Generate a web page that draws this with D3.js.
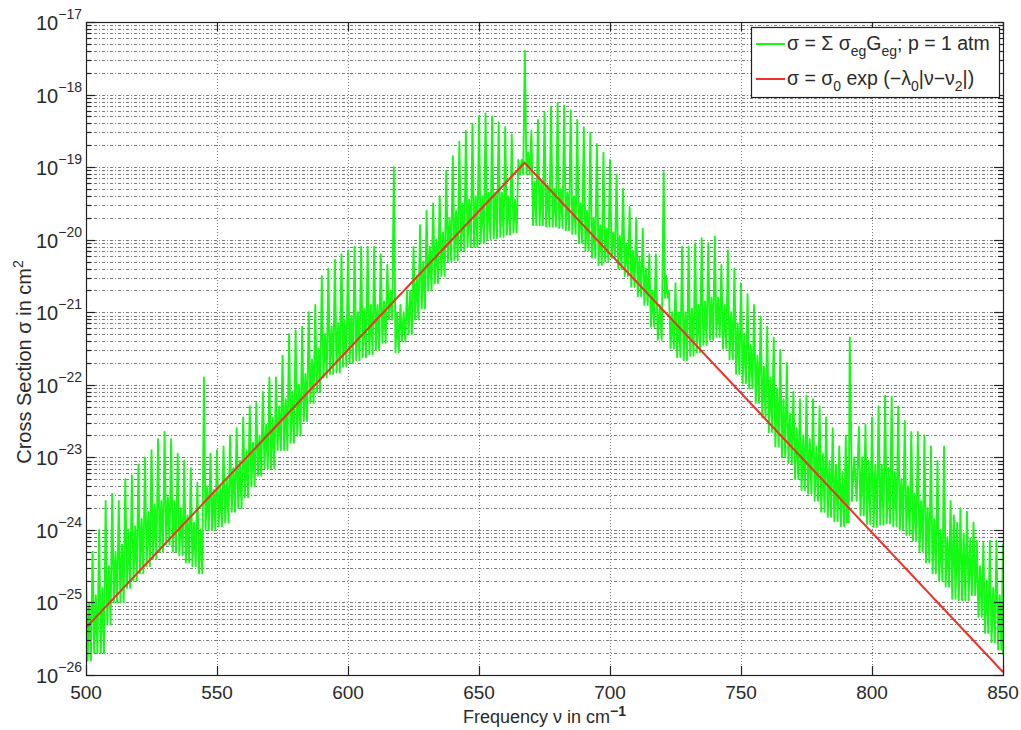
<!DOCTYPE html>
<html>
<head>
<meta charset="utf-8">
<script src="https://cdn.jsdelivr.net/npm/d3@7/dist/d3.min.js"></script>
<style>
  body { margin: 0; background: #fff; }
  text { font-family: "Liberation Sans", Arial, Helvetica, sans-serif; fill: #2a2a2a; }
</style>
</head>
<body>
<div id="chart"></div>
<script>
// spectral line positions (cm^-1) with log10 of peak, following trough, and top of the weak-line core
var lineNu = [500, 502.5, 505, 507.5, 510, 512.5, 515, 517.5, 520, 522.5, 525, 527.5, 530, 532.5, 535, 537.5, 540, 542.5,
  545, 547.5, 550, 552.5, 555, 557.5, 560, 562.5, 565, 567.5, 570, 572.5, 575, 577.5, 580, 582.5, 585, 587.5,
  590, 592.5, 595, 597.5, 600, 602.5, 605, 607.5, 610, 612.5, 615, 617.5, 620, 622.5, 625, 627.5, 630, 632.5,
  635, 637.5, 640, 642.5, 645, 647.5, 650, 652.5, 655, 657.5, 660, 662.5, 665, 667.5, 670, 672.5, 675, 677.5,
  680, 682.5, 685, 687.5, 690, 692.5, 695, 697.5, 700, 702.5, 705, 707.5, 710, 712.5, 715, 717.5, 720.5, 722.5,
  725, 727.5, 730, 732.5, 735, 737.5, 740, 742.5, 745, 747.5, 750, 752.5, 755, 757.5, 760, 762.5, 765, 767.5,
  770, 772.5, 775, 777.5, 780, 782.5, 785, 787.5, 790, 791.5, 795, 797.5, 800, 802.5, 805, 807.5, 810, 812.5,
  815, 817.5, 820, 822.5, 825, 827.5, 830, 832.5, 835, 837.5, 840, 842.5, 845, 847.5, 850];

var peakLog = [-24.6, -24.3, -24.0, -23.6, -23.5, -23.6, -23.3, -23.25, -23.1, -23.0, -22.9, -22.75, -22.65, -22.75, -22.95, -23.05, -23.15, -23.35,
  -21.9, -22.95, -22.9, -22.85, -22.7, -22.6, -22.45, -22.3, -22.25, -22.1, -21.9, -21.9, -21.6, -21.3, -21.25, -21.2, -21.0, -20.9,
  -20.5, -20.4, -20.28, -20.2, -20.15, -20.1, -20.1, -20.1, -20.1, -20.2, -20.35, -19.0, -20.9, -20.7, -20.1, -19.8, -19.6, -19.5,
  -19.4, -19.05, -18.85, -18.65, -18.5, -18.4, -18.3, -18.26, -18.3, -18.38, -18.45, -18.55, -18.9, -17.4, -18.5, -18.35, -18.25, -18.17,
  -18.12, -18.15, -18.22, -18.35, -18.45, -18.53, -18.68, -18.8, -18.9, -19.1, -19.3, -19.55, -19.7, -19.85, -20.2, -20.2, -19.07, -20.7,
  -20.6, -20.1, -20.1, -20.05, -19.98, -20.05, -19.96, -20.35, -20.15, -20.4, -20.6, -20.75, -20.9, -21.06, -21.2, -21.35, -21.52, -21.7,
  -22.1, -22.2, -22.15, -22.2, -22.3, -22.45, -22.6, -22.85, -22.7, -21.35, -22.58, -22.55, -22.45, -22.3, -22.15, -22.16, -22.3, -22.5,
  -22.65, -22.65, -22.7, -22.85, -23.05, -22.85, -23.6, -23.9, -24.05, -24.12, -24.15, -24.18, -24.15, -24.15, -24.2];

var troughLog = [-25.8, -25.7, -25.7, -25.3, -25.0, -25.0, -24.8, -24.7, -24.6, -24.5, -24.4, -24.3, -24.2, -24.3, -24.35, -24.45, -24.5, -24.6,
  -24.0, -24.0, -23.95, -23.9, -23.75, -23.7, -23.55, -23.4, -23.25, -23.15, -23.15, -22.9, -22.9, -22.8, -22.7, -22.5, -22.25, -22.1,
  -21.9, -21.85, -21.83, -21.75, -21.7, -21.66, -21.62, -21.58, -21.52, -21.42, -21.1, -21.55, -21.4, -21.3, -21.1, -20.95, -20.7, -20.6,
  -20.5, -20.3, -20.28, -20.15, -20.1, -20.1, -20.05, -20.0, -19.98, -19.96, -19.93, -19.9, -19.1, -19.1, -19.8, -19.8, -19.82, -19.82,
  -19.84, -19.87, -19.92, -20.05, -20.15, -20.25, -20.35, -20.3, -20.25, -20.4, -20.5, -20.65, -20.78, -20.9, -21.2, -21.38, -20.8, -21.5,
  -21.62, -21.66, -21.6, -21.55, -21.45, -21.38, -21.34, -21.5, -21.65, -21.85, -21.98, -22.05, -22.25, -22.45, -22.65, -22.85, -23.0, -23.08,
  -23.3, -23.45, -23.5, -23.6, -23.75, -23.82, -23.88, -23.95, -23.9, -23.6, -23.8, -23.92, -23.96, -23.93, -23.91, -23.95, -24.0, -24.07,
  -24.15, -24.3, -24.45, -24.6, -24.7, -24.78, -24.95, -24.97, -24.97, -24.9, -25.2, -25.42, -25.55, -25.65, -25.72];

var coreLog = [-25.0, -24.9, -24.8, -24.5, -24.3, -24.2, -24.0, -23.95, -23.85, -23.75, -23.65, -23.6, -23.55, -23.6, -23.7, -23.8, -23.9, -24.0,
  -23.4, -23.45, -23.4, -23.3, -23.15, -23.05, -22.9, -22.8, -22.7, -22.55, -22.45, -22.3, -22.2, -22.1, -22.0, -21.85, -21.65, -21.5,
  -21.3, -21.2, -21.15, -21.1, -21.05, -21.0, -20.95, -20.9, -20.9, -20.85, -20.7, -21.0, -21.0, -20.7, -20.5, -20.3, -20.1, -20.0,
  -19.9, -19.7, -19.6, -19.5, -19.45, -19.4, -19.4, -19.35, -19.35, -19.35, -19.4, -19.45, -18.9, -18.8, -19.2, -19.2, -19.25, -19.3,
  -19.3, -19.35, -19.4, -19.5, -19.6, -19.7, -19.8, -19.85, -19.9, -19.95, -20.05, -20.15, -20.25, -20.4, -20.7, -20.9, -20.5, -21.0,
  -21.0, -21.0, -20.95, -20.9, -20.85, -20.8, -20.8, -20.9, -21.0, -21.15, -21.3, -21.45, -21.6, -21.75, -21.9, -22.05, -22.2, -22.4,
  -22.6, -22.7, -22.75, -22.85, -22.95, -23.05, -23.1, -23.2, -23.1, -23.0, -23.0, -23.05, -23.1, -23.1, -23.15, -23.2, -23.3, -23.4,
  -23.5, -23.6, -23.7, -23.85, -24.0, -24.1, -23.8, -23.7, -23.75, -23.9, -24.5, -24.7, -24.8, -24.9, -25.0];

// exponential fit: corners
var fitNu = [500, 667.4, 850];
var fitSigma = [4.5e-26, 1.15e-19, 1.1e-26];

var xTicks = [500, 550, 600, 650, 700, 750, 800, 850];
var yExponents = [-26, -25, -24, -23, -22, -21, -20, -19, -18, -17];

var width = 1021, height = 730;
var margin = { left: 86, right: 18, top: 22, bottom: 55 };
var x0 = margin.left, x1 = width - margin.right;
var y0 = height - margin.bottom, y1 = margin.top;

var svg = d3.select("#chart").append("svg")
  .attr("width", width)
  .attr("height", height);

var x = d3.scaleLinear().domain([500, 850]).range([x0, x1]);
var y = d3.scaleLog().domain([1e-26, 1e-17]).range([y0, y1]);

svg.append("clipPath").attr("id", "plot-clip")
  .append("rect").attr("x", x0).attr("y", y1).attr("width", x1 - x0).attr("height", y0 - y1);

// grid: every minor and major decade value horizontally, major ticks vertically
var minorVals = [];
yExponents.slice(0, -1).forEach(function (e) {
  for (var m = 1; m < 10; m++) minorVals.push(m * Math.pow(10, e));
});
minorVals.push(1e-17);

var grid = svg.append("g").attr("class", "grid");
grid.selectAll(".hgrid")
  .data(minorVals.filter(function (v) { return v > 1e-26 && v < 1e-17; }))
  .enter().append("line")
  .attr("x1", x0).attr("x2", x1)
  .attr("y1", function (d) { return Math.round(y(d)) + 0.5; })
  .attr("y2", function (d) { return Math.round(y(d)) + 0.5; })
  .attr("stroke", "#6a6a6a")
  .attr("stroke-width", 0.9)
  .attr("stroke-dasharray", "3,2,1,2");

grid.selectAll(".vgrid")
  .data(xTicks.slice(1, -1))
  .enter().append("line")
  .attr("x1", function (d) { return Math.round(x(d)) + 0.5; })
  .attr("x2", function (d) { return Math.round(x(d)) + 0.5; })
  .attr("y1", y1).attr("y2", y0)
  .attr("stroke", "#6a6a6a")
  .attr("stroke-width", 0.9)
  .attr("stroke-dasharray", "1,2");

// green spectrum: strong line up to its peak, down to the trough, up to the weak core, down again
var specPts = [[lineNu[0], Math.pow(10, troughLog[0])]];
lineNu.forEach(function (nu, i) {
  specPts.push([nu, Math.pow(10, peakLog[i])]);
  if (i === lineNu.length - 1) {
    specPts.push([nu, Math.pow(10, troughLog[i])]);
    return;
  }
  var step = lineNu[i + 1] - nu;
  specPts.push([nu + step * 0.25, Math.pow(10, troughLog[i])]);
  specPts.push([nu + step * 0.5, Math.pow(10, coreLog[i])]);
  specPts.push([nu + step * 0.75, Math.pow(10, troughLog[i])]);
});

var line = d3.line()
  .x(function (d) { return x(d[0]); })
  .y(function (d) { return y(d[1]); });

svg.append("path")
  .datum(specPts)
  .attr("clip-path", "url(#plot-clip)")
  .attr("fill", "none")
  .attr("stroke", "#14fa14")
  .attr("stroke-width", 1.9)
  .attr("stroke-linejoin", "round")
  .attr("d", line);

svg.append("path")
  .datum(fitNu.map(function (nu, i) { return [nu, fitSigma[i]]; }))
  .attr("clip-path", "url(#plot-clip)")
  .attr("fill", "none")
  .attr("stroke", "#f0302a")
  .attr("stroke-width", 2)
  .attr("d", line);

// box and ticks
svg.append("rect")
  .attr("x", x0 + 0.5).attr("y", y1 + 0.5)
  .attr("width", x1 - x0).attr("height", y0 - y1)
  .attr("fill", "none").attr("stroke", "#222").attr("stroke-width", 1.2);

var ticks = svg.append("g").attr("stroke", "#222").attr("stroke-width", 1.2);
xTicks.forEach(function (t) {
  var px = Math.round(x(t)) + 0.5;
  ticks.append("line").attr("x1", px).attr("x2", px).attr("y1", y0).attr("y2", y0 - 9);
  ticks.append("line").attr("x1", px).attr("x2", px).attr("y1", y1).attr("y2", y1 + 9);
});
minorVals.forEach(function (v) {
  var py = Math.round(y(v)) + 0.5;
  var major = Math.abs(Math.log10(v) - Math.round(Math.log10(v))) < 1e-9;
  var len = major ? 9 : 5;
  ticks.append("line").attr("x1", x0).attr("x2", x0 + len).attr("y1", py).attr("y2", py);
  ticks.append("line").attr("x1", x1).attr("x2", x1 - len).attr("y1", py).attr("y2", py);
});

// tick labels
svg.append("g").selectAll("text")
  .data(xTicks)
  .enter().append("text")
  .attr("x", function (d) { return x(d); })
  .attr("y", y0 + 24)
  .attr("text-anchor", "middle")
  .attr("font-size", 19)
  .text(function (d) { return d; });

var yl = svg.append("g").selectAll("text")
  .data(yExponents)
  .enter().append("text")
  .attr("x", x0 - 4)
  .attr("y", function (d) { return y(Math.pow(10, d)) + 8; })
  .attr("text-anchor", "end")
  .attr("font-size", 20);
yl.append("tspan").text("10");
yl.append("tspan").attr("dy", -11).attr("font-size", 14)
  .text(function (d) { return "\u2212" + Math.abs(d); });

// axis titles
var xt = svg.append("text")
  .attr("x", (x0 + x1) / 2)
  .attr("y", 723)
  .attr("text-anchor", "middle")
  .attr("font-size", 18);
xt.append("tspan").text("Frequency \u03bd in cm");
xt.append("tspan").attr("dy", -7).attr("font-size", 14).attr("font-weight", "bold").text("\u22121");

var yt = svg.append("text")
  .attr("transform", "translate(31," + 362 + ") rotate(-90)")
  .attr("text-anchor", "middle")
  .attr("font-size", 20);
yt.append("tspan").text("Cross Section \u03c3 in cm");
yt.append("tspan").attr("dy", -8).attr("font-size", 14).text("2");

// legend
var lg = svg.append("g").attr("transform", "translate(751,27)");
lg.append("rect").attr("x", 0.5).attr("y", 0.5).attr("width", 248).attr("height", 70)
  .attr("fill", "#fff").attr("stroke", "#222").attr("stroke-width", 1.2);
lg.append("line").attr("x1", 5).attr("x2", 34).attr("y1", 17).attr("y2", 17)
  .attr("stroke", "#14fa14").attr("stroke-width", 2);
lg.append("line").attr("x1", 5).attr("x2", 34).attr("y1", 52).attr("y2", 52)
  .attr("stroke", "#f0302a").attr("stroke-width", 2);

var t1 = lg.append("text").attr("x", 36).attr("y", 23).attr("font-size", 19.5);
t1.append("tspan").text("\u03c3 = \u03a3 \u03c3");
t1.append("tspan").attr("dy", 6).attr("font-size", 14).text("eg");
t1.append("tspan").attr("dy", -6).text("G");
t1.append("tspan").attr("dy", 6).attr("font-size", 14).text("eg");
t1.append("tspan").attr("dy", -6).text("; p = 1 atm");

var t2 = lg.append("text").attr("x", 36).attr("y", 58).attr("font-size", 19.5);
t2.append("tspan").text("\u03c3 = \u03c3");
t2.append("tspan").attr("dy", 6).attr("font-size", 14).text("0");
t2.append("tspan").attr("dy", -6).text(" exp (\u2212\u03bb");
t2.append("tspan").attr("dy", 6).attr("font-size", 14).text("0");
t2.append("tspan").attr("dy", -6).text("|\u03bd\u2212\u03bd");
t2.append("tspan").attr("dy", 6).attr("font-size", 14).text("2");
t2.append("tspan").attr("dy", -6).text("|)");
</script>
</body>
</html>
